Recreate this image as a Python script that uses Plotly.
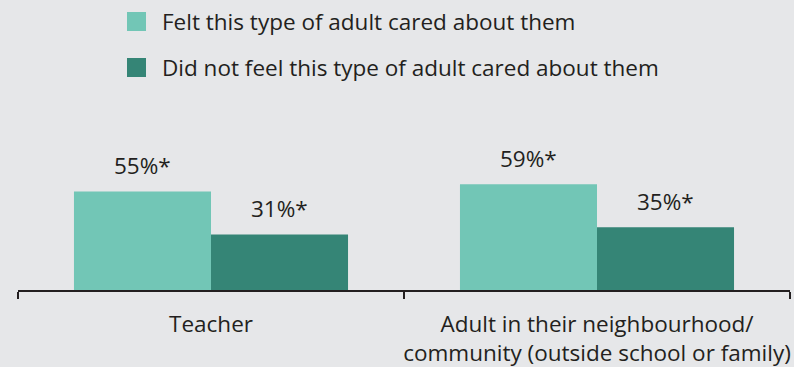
import plotly.graph_objects as go

categories = ["Teacher", "Adult in their neighbourhood/<br>community (outside school or family)"]
series_names = ["Felt this type of adult cared about them",
                "Did not feel this type of adult cared about them"]
felt = [55, 59]
not_felt = [31, 35]
labels_felt = ["55%*", "59%*"]
labels_not = ["31%*", "35%*"]

colors = ["#72c6b6", "#358576"]
text_color = "#231f20"
bg = "#e6e7e9"
FONT = "Open Sans"
FS = 22.5

W, H = 794, 367
ML, MR, MT, MB = 18, 4, 100, 77
PW = W - ML - MR
PH = H - MT - MB

fig = go.Figure()
for name, vals, col in zip(series_names, [felt, not_felt], colors):
    fig.add_trace(go.Bar(x=categories, y=vals, name=name, marker=dict(color=col, line=dict(width=0)),
                         showlegend=False, hoverinfo="skip"))

# value labels above bars
offsets = [-0.5 * (1 - 0.29) / 2, 0.5 * (1 - 0.29) / 2]
for k, (vals, labs) in enumerate([(felt, labels_felt), (not_felt, labels_not)]):
    for i, (v, lab) in enumerate(zip(vals, labs)):
        fig.add_annotation(x=i + offsets[k], y=v, xref="x", yref="y", text=lab, showarrow=False,
                           yanchor="middle", yshift=26, font=dict(family=FONT, size=FS, color=text_color))

# manual legend
def px2paper(px, py):
    return (px - ML) / PW, (H - MB - py) / PH

for j, (name, col) in enumerate(zip(series_names, colors)):
    cy = 21.5 + j * 46
    x0, y0 = px2paper(127, cy - 9.5)
    x1, y1 = px2paper(146, cy + 9.5)
    fig.add_shape(type="rect", xref="paper", yref="paper", x0=x0, x1=x1, y0=y0, y1=y1,
                  fillcolor=col, line=dict(width=0))
    tx, ty = px2paper(160, cy)
    fig.add_annotation(xref="paper", yref="paper", x=tx, y=ty, text=name, showarrow=False,
                       xanchor="left", yanchor="middle",
                       font=dict(family=FONT, size=FS, color=text_color))

fig.update_layout(
    width=W, height=H,
    margin=dict(l=ML, r=MR, t=MT, b=MB, autoexpand=False),
    paper_bgcolor=bg, plot_bgcolor=bg,
    barmode="group", bargap=0.29, bargroupgap=0,
    font=dict(family=FONT, size=FS, color=text_color),
    xaxis=dict(showline=True, linecolor="#231f20", linewidth=2, ticks="outside", tickson="boundaries",
               ticklen=7, tickwidth=2, tickcolor="#231f20", showgrid=False, zeroline=False,
               tickangle=0, automargin=False, ticklabelstandoff=13,
               tickfont=dict(family=FONT, size=FS, color=text_color), fixedrange=True),
    yaxis=dict(range=[0, 106], visible=False, showgrid=False, zeroline=False, fixedrange=True,
               automargin=False),
)

fig.write_html("out.html", config={"displayModeBar": False},
               post_script="document.body.style.margin='0';document.body.style.overflow='hidden';")
